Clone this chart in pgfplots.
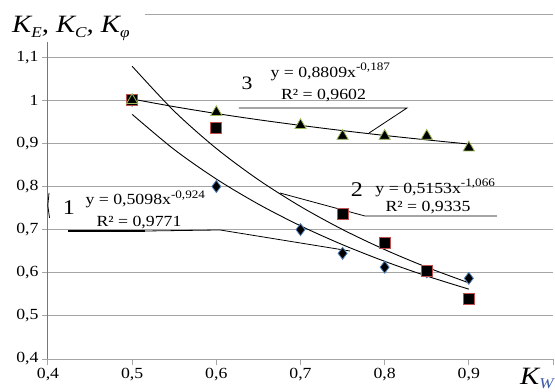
\documentclass[border=0pt]{standalone}
\usepackage{fontspec}
\setmainfont{Liberation Serif}[FakeStretch=1.15]
\usepackage{pgfplots}
\pgfplotsset{compat=1.18}
\definecolor{gridc}{RGB}{165,165,165}
\definecolor{axc}{RGB}{120,120,120}
\definecolor{mblue}{RGB}{79,129,189}
\definecolor{mred}{RGB}{192,80,77}
\definecolor{mgreen}{RGB}{155,187,89}
\definecolor{wblue}{RGB}{60,90,170}
\newcommand\mysup[1]{\raisebox{0.42em}{\fontsize{11.5}{12}\selectfont #1}}
\newcommand\mysub[1]{\raisebox{-0.2em}{\fontsize{15}{15}\selectfont #1}}
\begin{document}
\begin{tikzpicture}
\begin{axis}[
  scale only axis, width=505bp, height=345bp,
  xmin=0.4, xmax=1.0, ymin=0.4, ymax=1.2,
  clip=false,
  axis line style={draw=none},
  xtick={0.4,0.5,0.6,0.7,0.8,0.9,1.0},
  xticklabels={{0,4},{0,5},{0,6},{0,7},{0,8},{0,9},{}},
  ytick={0.4,0.5,0.6,0.7,0.8,0.9,1.0,1.1},
  yticklabels={{0,4},{0,5},{0,6},{0,7},{0,8},{0,9},{1},{1,1}},
  xtick pos=bottom, ytick pos=left,
  tick align=outside, major tick length=6bp,
  tick style={gridc, line width=1bp},
  ymajorgrids, grid style={gridc, line width=1bp},
  tick label style={font=\fontsize{15.5}{18}\selectfont, text=black},
]
\coordinate (bl) at (rel axis cs:0,0);
\draw[axc, line width=1bp] (axis cs:0.4,0.4) -- (axis cs:0.4,1.134);
\draw[gridc, line width=1bp] (axis cs:0.515,1.2) -- (axis cs:1.0,1.2);

% trend lines
\addplot[black, line width=0.9bp, smooth, no marks] coordinates {
(0.5,0.9673) (0.55,0.8857) (0.6,0.8173) (0.65,0.7591) (0.7,0.7088)
(0.75,0.6650) (0.8,0.6265) (0.85,0.5924) (0.9,0.5620)};
\addplot[black, line width=0.9bp, smooth, no marks] coordinates {
(0.5,1.0788) (0.55,0.9746) (0.6,0.8882) (0.65,0.8156) (0.7,0.7537)
(0.75,0.7002) (0.8,0.6537) (0.85,0.6128) (0.9,0.5766)};
\addplot[black, line width=0.9bp, smooth, no marks] coordinates {
(0.5,1.0028) (0.55,0.9851) (0.6,0.9692) (0.65,0.9548) (0.7,0.9417)
(0.75,0.9296) (0.8,0.9184) (0.85,0.9081) (0.9,0.8984)};

% series 1 diamonds
\addplot[only marks, mark=diamond*, mark size=6bp,
  mark options={fill=black, draw=mblue, line width=0.8bp}] coordinates {
(0.5,1.0) (0.6,0.80) (0.7,0.70) (0.75,0.645) (0.8,0.613) (0.85,0.602) (0.9,0.587)};
% series 2 squares
\addplot[only marks, mark=square*, mark size=5.5bp,
  mark options={fill=black, draw=mred, line width=0.8bp}] coordinates {
(0.5,1.0) (0.6,0.936) (0.75,0.737) (0.8,0.670) (0.85,0.604) (0.9,0.539)};
% series 3 triangles
\addplot[only marks, mark=triangle*, mark size=6.5bp,
  mark options={fill=black, draw=mgreen, line width=0.8bp}] coordinates {
(0.5,1.0) (0.6,0.972) (0.7,0.942) (0.75,0.917) (0.8,0.917) (0.85,0.917) (0.9,0.890)};

% annotation 3
\draw[black, line width=0.8bp] (axis cs:0.6269,0.982) -- (axis cs:0.8265,0.982) -- (axis cs:0.7814,0.924);
\node[anchor=base, font=\fontsize{19}{22}\selectfont] at (axis cs:0.6364,1.026) {3};
\node[anchor=base west, font=\fontsize{15.5}{18}\selectfont] at (axis cs:0.6602,1.0539) {y = 0,8809x\mysup{-0,187}};
\node[anchor=base, font=\fontsize{15.5}{18}\selectfont] at (axis cs:0.7273,1.0006) {R² = 0,9602};

% annotation 2
\draw[black, line width=0.8bp] (axis cs:0.6756,0.7849) -- (axis cs:0.7766,0.7316) -- (axis cs:0.9334,0.7316);
\node[anchor=base, font=\fontsize{21}{24}\selectfont] at (axis cs:0.7671,0.7757) {2};
\node[anchor=base west, font=\fontsize{15.5}{18}\selectfont] at (axis cs:0.7849,0.7849) {y = 0,5153x\mysup{-1,066}};
\node[anchor=base, font=\fontsize{15.5}{18}\selectfont] at (axis cs:0.8515,0.7409) {R² = 0,9335};

% annotation 1
\draw[black, line width=1.6bp] (axis cs:0.4238,0.6968) -- (axis cs:0.5153,0.6968);
\draw[black, line width=0.8bp] (axis cs:0.5153,0.6968) -- (axis cs:0.6044,0.6992) -- (axis cs:0.7588,0.6504);
\node[anchor=base, font=\fontsize{21}{24}\selectfont] at (axis cs:0.4249,0.7340) {1};
\node[anchor=base west, font=\fontsize{15.5}{18}\selectfont] at (axis cs:0.4404,0.7572) {y = 0,5098x\mysup{-0,924}};
\node[anchor=base, font=\fontsize{15.5}{18}\selectfont] at (axis cs:0.5081,0.7062) {R² = 0,9771};
\draw[black, line width=0.8bp] (axis cs:0.4012,0.7850) .. controls (axis cs:0.3995,0.770) .. (axis cs:0.3998,0.7560) .. controls (axis cs:0.4000,0.742) .. (axis cs:0.4018,0.7270);
\end{axis}
\node[anchor=base west, inner sep=0pt, font=\fontsize{25}{28}\selectfont] at ([shift={(-36bp,326bp)}]bl)
  {\itshape K\mysub{E}, K\mysub{C}, K\mysub{φ}};
\node[anchor=base west, inner sep=0pt, font=\fontsize{25}{28}\selectfont] at ([shift={(472bp,-25bp)}]bl)
  {\itshape K\mysub{\color{wblue}W}};
\pgfresetboundingbox
\path[use as bounding box] (bl) ++(-48bp,-33bp) rectangle ++(555bp,392bp);
\end{tikzpicture}
\end{document}
